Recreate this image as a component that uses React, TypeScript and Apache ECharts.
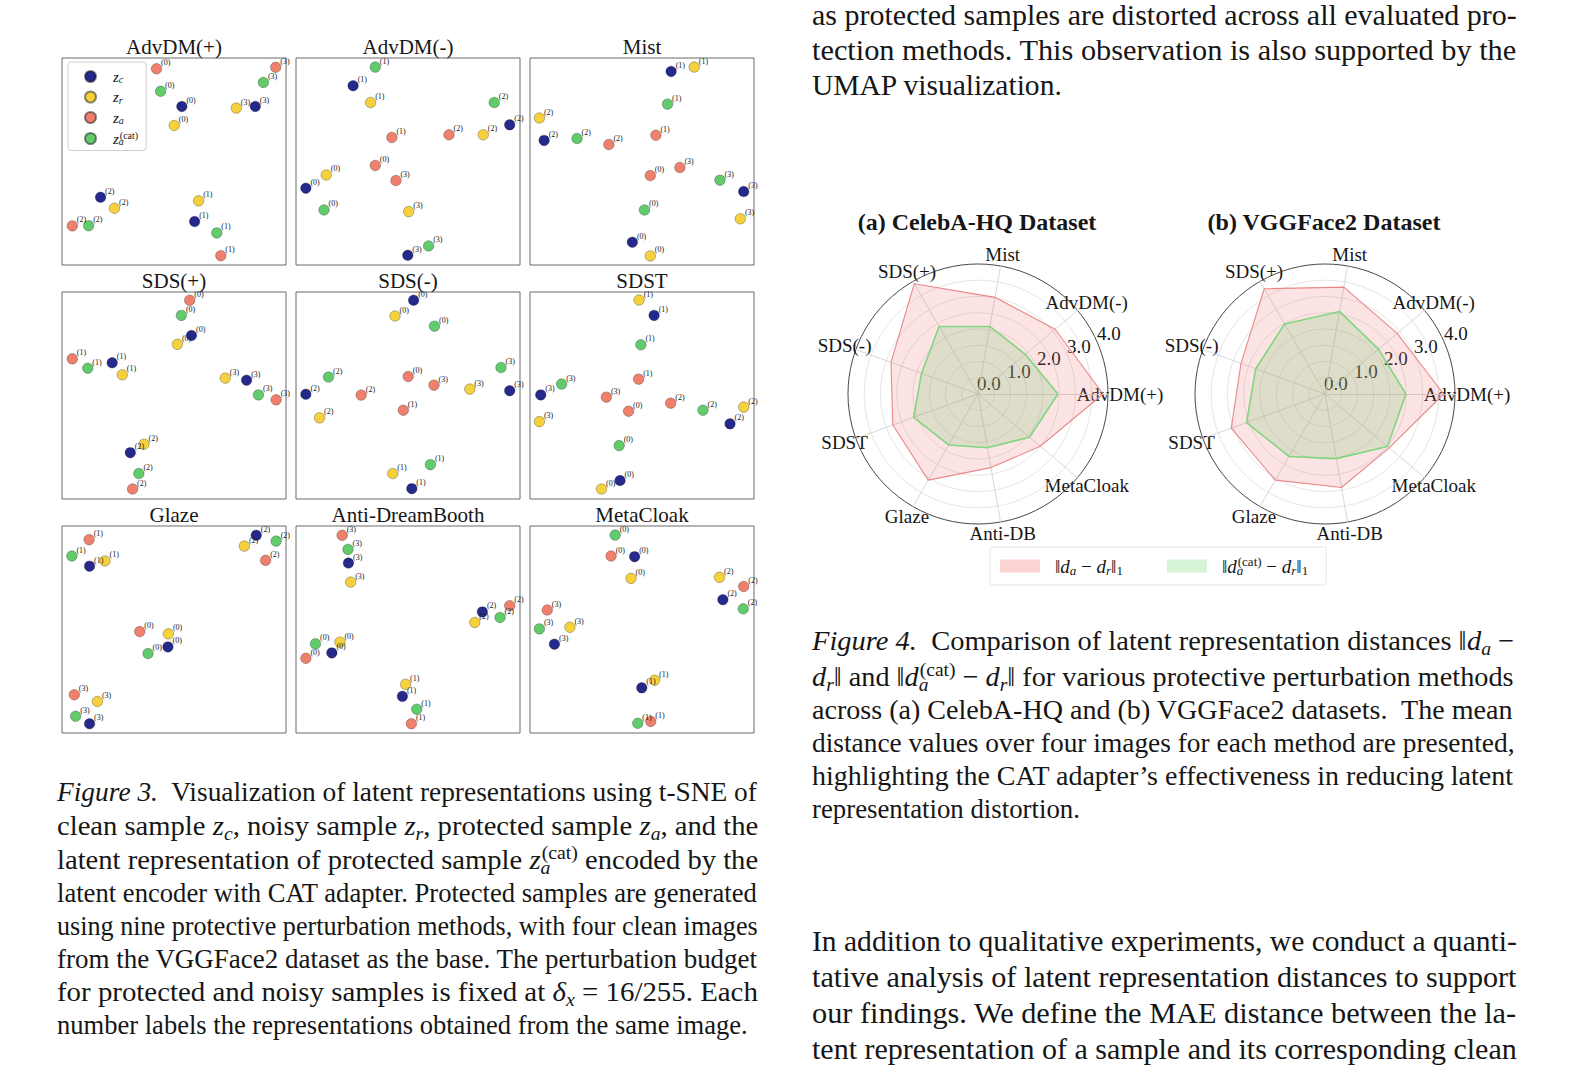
import React, { useEffect, useRef } from "react";
import * as echarts from "echarts";

const SERIF = "'Liberation Serif', 'Times New Roman', Times, serif";
const INK = "#161616";

type Pt = [number, number];
type Tok = [string, string];

// ---------- Figure 3 (t-SNE panels) ----------
const METHODS = ["AdvDM(+)", "AdvDM(-)", "Mist", "SDS(+)", "SDS(-)", "SDST", "Glaze", "Anti-DreamBooth", "MetaCloak"];
const SERIES_KEYS = ["zc", "zr", "za", "zcat"];
const SERIES_COLORS = ["#25298c", "#f6d13e", "#f0806e", "#62cc6c"];

// each panel: [z_c, z_r, z_a, z_a^(cat)]; each holds images (0),(1),(2),(3) as [x frac, y frac from top]
const ADVDM_PLUS: Pt[][] = [
  [[0.535, 0.234], [0.592, 0.79], [0.172, 0.673], [0.863, 0.234]],
  [[0.501, 0.326], [0.61, 0.69], [0.234, 0.726], [0.778, 0.242]],
  [[0.422, 0.052], [0.709, 0.955], [0.046, 0.811], [0.954, 0.045]],
  [[0.44, 0.161], [0.691, 0.845], [0.119, 0.81], [0.899, 0.118]],
];
const ADVDM_MINUS: Pt[][] = [
  [[0.044, 0.629], [0.255, 0.134], [0.954, 0.323], [0.499, 0.953]],
  [[0.135, 0.565], [0.333, 0.215], [0.836, 0.371], [0.503, 0.742]],
  [[0.354, 0.519], [0.428, 0.384], [0.683, 0.371], [0.446, 0.592]],
  [[0.125, 0.734], [0.354, 0.044], [0.885, 0.215], [0.592, 0.908]],
];
const MIST: Pt[][] = [
  [[0.457, 0.89], [0.63, 0.065], [0.063, 0.398], [0.954, 0.645]],
  [[0.537, 0.956], [0.733, 0.044], [0.042, 0.29], [0.939, 0.777]],
  [[0.537, 0.568], [0.562, 0.373], [0.352, 0.418], [0.669, 0.529]],
  [[0.511, 0.734], [0.614, 0.223], [0.21, 0.389], [0.848, 0.59]],
];
const SDS_PLUS: Pt[][] = [
  [[0.578, 0.21], [0.224, 0.342], [0.305, 0.776], [0.824, 0.426]],
  [[0.515, 0.253], [0.269, 0.4], [0.366, 0.735], [0.729, 0.416]],
  [[0.57, 0.04], [0.046, 0.323], [0.315, 0.952], [0.956, 0.521]],
  [[0.533, 0.113], [0.115, 0.368], [0.343, 0.877], [0.877, 0.497]],
];
const SDS_MINUS: Pt[][] = [
  [[0.525, 0.04], [0.517, 0.95], [0.044, 0.494], [0.954, 0.477]],
  [[0.442, 0.116], [0.432, 0.877], [0.105, 0.608], [0.776, 0.469]],
  [[0.501, 0.408], [0.479, 0.571], [0.291, 0.498], [0.616, 0.45]],
  [[0.618, 0.165], [0.6, 0.834], [0.145, 0.411], [0.915, 0.365]],
];
const SDST: Pt[][] = [
  [[0.402, 0.911], [0.554, 0.113], [0.893, 0.637], [0.048, 0.497]],
  [[0.319, 0.952], [0.487, 0.039], [0.954, 0.556], [0.042, 0.626]],
  [[0.44, 0.576], [0.485, 0.421], [0.628, 0.537], [0.341, 0.508]],
  [[0.398, 0.742], [0.495, 0.255], [0.772, 0.571], [0.141, 0.445]],
];
const GLAZE: Pt[][] = [
  [[0.473, 0.584], [0.123, 0.194], [0.867, 0.045], [0.123, 0.955]],
  [[0.475, 0.521], [0.192, 0.169], [0.814, 0.097], [0.158, 0.848]],
  [[0.347, 0.51], [0.121, 0.066], [0.909, 0.166], [0.055, 0.815]],
  [[0.384, 0.616], [0.044, 0.145], [0.956, 0.073], [0.061, 0.919]],
];
const ANTI_DB: Pt[][] = [
  [[0.16, 0.613], [0.475, 0.823], [0.832, 0.415], [0.234, 0.179]],
  [[0.196, 0.561], [0.489, 0.765], [0.798, 0.466], [0.244, 0.271]],
  [[0.044, 0.639], [0.515, 0.955], [0.954, 0.385], [0.206, 0.045]],
  [[0.087, 0.569], [0.539, 0.885], [0.911, 0.442], [0.232, 0.113]],
];
const METACLOAK: Pt[][] = [
  [[0.467, 0.148], [0.499, 0.782], [0.861, 0.356], [0.109, 0.571]],
  [[0.451, 0.253], [0.556, 0.745], [0.846, 0.248], [0.178, 0.489]],
  [[0.362, 0.145], [0.539, 0.944], [0.954, 0.292], [0.077, 0.406]],
  [[0.38, 0.044], [0.481, 0.953], [0.952, 0.4], [0.042, 0.497]],
];
const PANELS = [ADVDM_PLUS, ADVDM_MINUS, MIST, SDS_PLUS, SDS_MINUS, SDST, GLAZE, ANTI_DB, METACLOAK];

// ---------- Figure 4 (radar) ----------
const INDICATORS = ["AdvDM(+)", "AdvDM(-)", "Mist", "SDS(+)", "SDS(-)", "SDST", "Glaze", "Anti-DB", "MetaCloak"];
const RADIAL_TICKS = [0, 1, 2, 3, 4];
const CELEBA_DA = [3.85, 3.1, 3.02, 3.92, 2.85, 2.79, 3.06, 2.3, 2.5];
const CELEBA_CAT = [2.46, 1.9, 2.11, 2.4, 1.85, 2.11, 1.81, 1.68, 2.07];
const VGG_DA = [3.65, 2.9, 3.34, 3.74, 2.75, 3.07, 3.06, 2.92, 2.58];
const VGG_CAT = [2.49, 2.15, 2.58, 2.49, 2.27, 2.57, 2.22, 2.02, 2.51];
const RADAR_TITLES = ["(a) CelebA-HQ Dataset", "(b) VGGFace2 Dataset"];

// ---------- text ----------
const BODY_TOP: Tok[][] = [
  [["n", "as protected samples are distorted across all evaluated pro-"]],
  [["n", "tection methods. This observation is also supported by the"]],
  [["n", "UMAP visualization."]],
];
const FIG4_CAPTION: Tok[][] = [
  [["it", "Figure 4."], ["n", "  Comparison of latent representation distances \u2016"], ["it", "d"], ["sb", "a"], ["n", " \u2212"]],
  [["it", "d"], ["sb", "r"], ["n", "\u2016 and \u2016"], ["it", "d"], ["sbz", "a"], ["sp", "(cat)"], ["n", " \u2212 "], ["it", "d"], ["sb", "r"], ["n", "\u2016 for various protective perturbation methods"]],
  [["n", "across (a) CelebA-HQ and (b) VGGFace2 datasets.  The mean"]],
  [["n", "distance values over four images for each method are presented,"]],
  [["n", "highlighting the CAT adapter\u2019s effectiveness in reducing latent"]],
  [["n", "representation distortion."]],
];
const FIG3_CAPTION: Tok[][] = [
  [["it", "Figure 3."], ["n", "  Visualization of latent representations using t-SNE of"]],
  [["n", "clean sample "], ["it", "z"], ["sb", "c"], ["n", ", noisy sample "], ["it", "z"], ["sb", "r"], ["n", ", protected sample "], ["it", "z"], ["sb", "a"], ["n", ", and the"]],
  [["n", "latent representation of protected sample "], ["it", "z"], ["sbz", "a"], ["sp", "(cat)"], ["n", " encoded by the"]],
  [["n", "latent encoder with CAT adapter. Protected samples are generated"]],
  [["n", "using nine protective perturbation methods, with four clean images"]],
  [["n", "from the VGGFace2 dataset as the base. The perturbation budget"]],
  [["n", "for protected and noisy samples is fixed at "], ["it", "\u03b4"], ["sb", "x"], ["n", " = 16/255. Each"]],
  [["n", "number labels the representations obtained from the same image."]],
];
const BODY_BOTTOM: Tok[][] = [
  [["n", "In addition to qualitative experiments, we conduct a quanti-"]],
  [["n", "tative analysis of latent representation distances to support"]],
  [["n", "our findings. We define the MAE distance between the la-"]],
  [["n", "tent representation of a sample and its corresponding clean"]],
];

// ---------- layout ----------
const PX0 = 62, PDX = 234, PY0 = 58, PDY = 234, PW = 224, PH = 207;
const RADAR_CENTERS: Pt[] = [[978, 394], [1325, 394]];
const RADAR_R = 130;

let measureCtx: CanvasRenderingContext2D | null = null;
function tokWidth(kind: string, text: string, F: number): number {
  if (kind === "sbz") return 1;
  if (!measureCtx) measureCtx = document.createElement("canvas").getContext("2d");
  const small = kind === "sb" || kind === "sbn" || kind === "sp";
  const size = small ? Math.round(F * 0.7) : F;
  const ital = kind === "it" || kind === "sb";
  measureCtx!.font = `${ital ? "italic " : ""}${size}px ${SERIF}`;
  return measureCtx!.measureText(text).width;
}
function richStyles(F: number) {
  const L = Math.round(F * 1.25);
  const s = Math.round(F * 0.7);
  const n = { fontFamily: SERIF, fontSize: F, lineHeight: L, verticalAlign: "middle", fill: INK };
  const sb = { fontFamily: SERIF, fontSize: s, fontStyle: "italic", lineHeight: s, verticalAlign: "bottom", fill: INK };
  return {
    n,
    it: { ...n, fontStyle: "italic" },
    sb,
    sbz: { ...sb, width: 1 },
    sbn: { ...sb, fontStyle: "normal" },
    sp: { fontFamily: SERIF, fontSize: s, lineHeight: s, verticalAlign: "top", fill: INK },
  };
}

// widths: target width of each line (justified lines fill the column; last lines end where the text ends)
function paragraph(lines: Tok[][], ys: number[], x: number, widths: number[], F: number) {
  const rich = richStyles(F);
  return lines.map((l, i) => {
    const nat = l.reduce((a, [k, t]) => a + tokWidth(k, t, F), 0);
    return {
      type: "text",
      x,
      y: ys[i],
      scaleX: widths[i] / nat,
      silent: true,
      style: {
        text: l.map(([k, t]) => `{${k}|${t}}`).join(""),
        rich,
        fontFamily: SERIF,
        fontSize: F,
        fill: INK,
        align: "left",
        verticalAlign: "middle",
      },
    };
  });
}

function buildOption() {
  const grids: any[] = [], xAxes: any[] = [], yAxes: any[] = [], series: any[] = [], graphics: any[] = [];

  PANELS.forEach((panel, i) => {
    const col = i % 3, row = Math.floor(i / 3);
    grids.push({ left: PX0 + col * PDX, top: PY0 + row * PDY, width: PW, height: PH, show: true, borderColor: "#6a6a6a", borderWidth: 1, backgroundColor: "transparent" });
    xAxes.push({ type: "value", gridIndex: i, min: 0, max: 1, show: false });
    yAxes.push({ type: "value", gridIndex: i, min: 0, max: 1, inverse: true, show: false });
    panel.forEach((pts, k) => {
      series.push({
        type: "scatter",
        name: SERIES_KEYS[k],
        xAxisIndex: i,
        yAxisIndex: i,
        data: pts.map((p, j) => [p[0], p[1], j]),
        symbolSize: 10.5,
        silent: true,
        emphasis: { disabled: true },
        itemStyle: { color: SERIES_COLORS[k], borderColor: "rgba(0,0,0,0.45)", borderWidth: 0.6, opacity: 1 },
        label: {
          show: true,
          formatter: (p: any) => `(${p.data[2]})`,
          position: "right",
          distance: 0,
          offset: [-1, -6],
          fontSize: 8,
          fontFamily: SERIF,
          color: "#222",
        },
      });
    });
    graphics.push({
      type: "text", x: PX0 + col * PDX + PW / 2, y: PY0 + row * PDY - 11, silent: true,
      style: { text: METHODS[i], fontFamily: SERIF, fontSize: 21, fill: INK, align: "center", verticalAlign: "middle" },
    });
  });

  const ringColors = ["#e2e2e2", "#e2e2e2", "#e2e2e2", "#e2e2e2", "#e2e2e2", "#e2e2e2", "#e2e2e2", "#e2e2e2", "#333333"];
  const radars = RADAR_CENTERS.map((c) => ({
    center: [c[0], c[1]],
    radius: RADAR_R,
    startAngle: 0,
    shape: "circle",
    splitNumber: 8,
    indicator: INDICATORS.map((n) => ({ name: n, min: 0, max: 4 })),
    axisName: { show: false },
    splitLine: { lineStyle: { color: ringColors, width: 0.9 } },
    splitArea: { show: false },
    axisLine: { lineStyle: { color: "#d4d4d4", width: 0.9 } },
    axisTick: { show: false },
    axisLabel: { show: false },
  }));
  const radarData = [[CELEBA_DA, CELEBA_CAT], [VGG_DA, VGG_CAT]];
  radarData.forEach(([da, cat], ri) => {
    series.push({
      type: "radar", radarIndex: ri, name: "da", symbol: "none", silent: true,
      lineStyle: { color: "#e88c8c", width: 1.1 },
      areaStyle: { color: "rgba(240,110,110,0.27)" },
      itemStyle: { color: "#fbd3d3" },
      data: [{ name: "da", value: da }],
    });
    series.push({
      type: "radar", radarIndex: ri, name: "dcat", symbol: "none", silent: true,
      lineStyle: { color: "#84d884", width: 1.6 },
      areaStyle: { color: "rgba(110,200,110,0.3)" },
      itemStyle: { color: "#d6f5d6" },
      data: [{ name: "dcat", value: cat }],
    });
  });

  RADAR_CENTERS.forEach((c, ri) => {
    graphics.push({
      type: "text", x: c[0] - 1, y: 222, silent: true,
      style: { text: RADAR_TITLES[ri], fontFamily: SERIF, fontSize: 24, fontWeight: "bold", fill: INK, align: "center", verticalAlign: "middle" },
    });
    INDICATORS.forEach((name, i) => {
      const a = (i * 2 * Math.PI) / INDICATORS.length;
      graphics.push({
        type: "text", x: c[0] + 142 * Math.cos(a), y: c[1] - 142 * Math.sin(a), silent: true,
        style: { text: name, fontFamily: SERIF, fontSize: 19, fill: INK, align: "center", verticalAlign: "middle" },
      });
    });
    const la = (22.5 * Math.PI) / 180;
    RADIAL_TICKS.forEach((v) => {
      const r = (v / 4) * RADAR_R;
      graphics.push({
        type: "text", x: c[0] + r * Math.cos(la) - 1, y: c[1] - r * Math.sin(la) - 1, silent: true,
        style: { text: v.toFixed(1), fontFamily: SERIF, fontSize: 19, fill: INK, align: "left", verticalAlign: "bottom" },
      });
    });
  });

  graphics.push(...paragraph(BODY_TOP, [15, 50, 85], 812, [705, 705, 251], 29.5));
  graphics.push(...paragraph(FIG4_CAPTION, [641, 677, 710, 743, 776, 809], 812, [702, 702, 702, 703, 702, 268], 27.5));
  graphics.push(...paragraph(FIG3_CAPTION, [792, 826, 860, 893, 926, 959, 992, 1025], 57, [701, 701, 701, 701, 701, 701, 701, 691], 27.5));
  graphics.push(...paragraph(BODY_BOTTOM, [941, 977, 1013, 1049], 812, [705, 705, 705, 705], 29.5));

  const LEGEND_Z: Record<string, string> = {
    zc: "{i|z}{s|c}",
    zr: "{i|z}{s|r}",
    za: "{i|z}{s|a}",
    zcat: "{i|z}{sz|a}{p|(cat)}",
  };
  const LEGEND_D: Record<string, string> = {
    da: "{b|\u2016}{i|d}{s|a}{n| \u2212 }{i|d}{s|r}{n|\u2016}{o|1}",
    dcat: "{b|\u2016}{i|d}{sz|a}{p|(cat)}{n| \u2212 }{i|d}{s|r}{n|\u2016}{o|1}",
  };

  return {
    animation: false,
    backgroundColor: "#ffffff",
    grid: grids,
    xAxis: xAxes,
    yAxis: yAxes,
    radar: radars,
    legend: [
      {
        data: SERIES_KEYS,
        orient: "vertical", left: 68, top: 62, padding: [7, 8, 4, 16], itemGap: 5,
        itemWidth: 11, itemHeight: 11, icon: "circle", selectedMode: false,
        borderColor: "#d0d0d0", borderWidth: 1, borderRadius: 3,
        formatter: (n: string) => LEGEND_Z[n],
        textStyle: {
          fontFamily: SERIF, fontSize: 15, color: INK,
          rich: {
            i: { fontFamily: SERIF, fontSize: 15, fontStyle: "italic", lineHeight: 16, padding: [0, 0, 0, 12], verticalAlign: "middle", color: INK },
            s: { fontFamily: SERIF, fontSize: 10, fontStyle: "italic", lineHeight: 10, verticalAlign: "bottom", color: INK },
            sz: { fontFamily: SERIF, fontSize: 10, fontStyle: "italic", lineHeight: 10, verticalAlign: "bottom", width: 1, color: INK },
            p: { fontFamily: SERIF, fontSize: 10, lineHeight: 10, verticalAlign: "top", color: INK },
          },
        },
      },
      {
        data: [
          { name: "da", icon: "rect", itemStyle: { color: "#fcd3d3", borderWidth: 0 } },
          { name: "dcat", icon: "rect", itemStyle: { color: "#d6f5d6", borderWidth: 0 } },
        ],
        orient: "horizontal", left: 990, top: 547, padding: [8, 18, 8, 10], itemGap: 44,
        itemWidth: 40, itemHeight: 13, selectedMode: false,
        borderColor: "#e6e6e6", borderWidth: 1, borderRadius: 2,
        formatter: (n: string) => LEGEND_D[n],
        textStyle: {
          fontFamily: SERIF, fontSize: 19, color: INK,
          rich: {
            b: { fontFamily: SERIF, fontSize: 19, lineHeight: 22, padding: [0, 0, 0, 10], verticalAlign: "middle", color: INK },
            n: { fontFamily: SERIF, fontSize: 19, lineHeight: 22, verticalAlign: "middle", color: INK },
            i: { fontFamily: SERIF, fontSize: 19, fontStyle: "italic", lineHeight: 22, verticalAlign: "middle", color: INK },
            s: { fontFamily: SERIF, fontSize: 13, fontStyle: "italic", lineHeight: 13, verticalAlign: "bottom", color: INK },
            sz: { fontFamily: SERIF, fontSize: 13, fontStyle: "italic", lineHeight: 13, verticalAlign: "bottom", width: 1, color: INK },
            p: { fontFamily: SERIF, fontSize: 13, lineHeight: 13, verticalAlign: "top", color: INK },
            o: { fontFamily: SERIF, fontSize: 13, lineHeight: 13, verticalAlign: "bottom", color: INK },
          },
        },
      },
    ],
    series,
    graphic: graphics,
  };
}

export default function App() {
  const ref = useRef<HTMLDivElement>(null);
  useEffect(() => {
    if (!ref.current) return;
    const chart = echarts.init(ref.current, null, { renderer: "svg" });
    chart.setOption(buildOption() as any);
    return () => chart.dispose();
  }, []);
  return (
    <div
      ref={ref}
      style={{ position: "fixed", left: 0, top: 0, width: 1570, height: 1072, background: "#fff" }}
    />
  );
}
